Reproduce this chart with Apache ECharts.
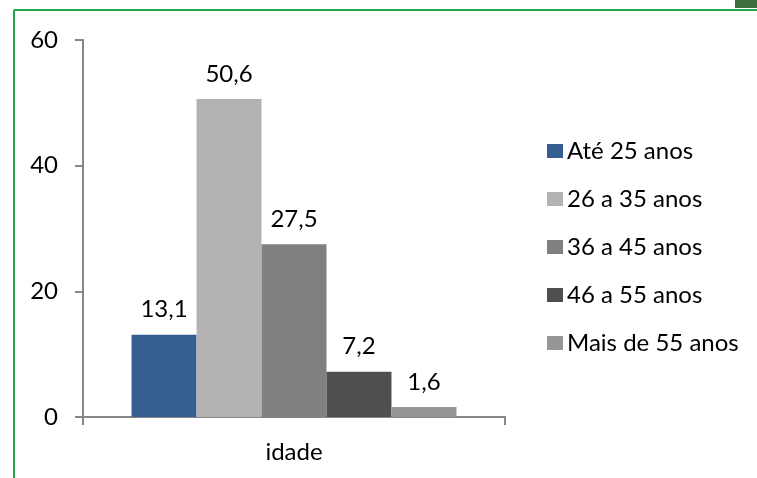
<!DOCTYPE html>
<html>
<head>
<meta charset="utf-8">
<script src="https://cdn.jsdelivr.net/npm/echarts@6/dist/echarts.min.js"></script>
<style>
  html, body { margin: 0; padding: 0; background: #fff; }
  #chart { width: 757px; height: 478px; }
</style>
</head>
<body>
<div id="chart"></div>
<script>
// dados
var categorias = ['idade'];
var faixas = ['Até 25 anos', '26 a 35 anos', '36 a 45 anos', '46 a 55 anos', 'Mais de 55 anos'];
var valores = [13.1, 50.6, 27.5, 7.2, 1.6];
var cores = ['#365f91', '#b3b3b3', '#808080', '#4f4f4f', '#969696'];

var myChart = echarts.init(document.getElementById('chart'));

var fonte = 'Lato';
var tam = 24;

var series = faixas.map(function (nome, i) {
  return {
    name: nome,
    type: 'bar',
    data: [valores[i]],
    barGap: 0,
    barCategoryGap: '23%',
    itemStyle: { color: cores[i] },
    label: {
      show: true,
      position: 'top',
      distance: 13,
      color: '#000',
      fontSize: tam,
      fontFamily: fonte,
      formatter: function (p) { return p.value.toFixed(1).replace('.', ','); }
    }
  };
});

var option = {
  animation: false,
  textStyle: { fontFamily: fonte },
  grid: { left: 83, right: 252, top: 40, bottom: 61 },
  legend: {
    orient: 'vertical',
    left: 547,
    top: 139,
    padding: 0,
    itemWidth: 16,
    itemHeight: 14,
    itemGap: 24,
    icon: 'rect',
    textStyle: { fontSize: tam, color: '#000', fontFamily: fonte, lineHeight: 24, padding: [0, 0, 0, -1] },
    data: faixas
  },
  xAxis: {
    type: 'category',
    data: categorias,
    axisLine: { lineStyle: { color: '#868686', width: 2 } },
    axisTick: { show: true, length: 8, lineStyle: { color: '#868686', width: 2 } },
    axisLabel: { color: '#000', fontSize: tam, margin: 23, fontFamily: fonte }
  },
  yAxis: {
    type: 'value',
    min: 0,
    max: 60,
    interval: 20,
    splitLine: { show: false },
    axisLine: { show: true, lineStyle: { color: '#868686', width: 2 } },
    axisTick: { show: true, length: 8, lineStyle: { color: '#868686', width: 2 } },
    axisLabel: { color: '#000', fontSize: tam, margin: 25, fontFamily: fonte }
  },
  graphic: [
    { type: 'line', shape: { x1: 14, y1: 10, x2: 757, y2: 10 }, style: { stroke: '#22a84a', lineWidth: 2 } },
    { type: 'line', shape: { x1: 14, y1: 10, x2: 14, y2: 478 }, style: { stroke: '#22a84a', lineWidth: 2 } },
    { type: 'rect', shape: { x: 735, y: 0, width: 22, height: 8 }, style: { fill: '#3e6e40' } }
  ],
  series: series
};

myChart.setOption(option);
</script>
</body>
</html>
